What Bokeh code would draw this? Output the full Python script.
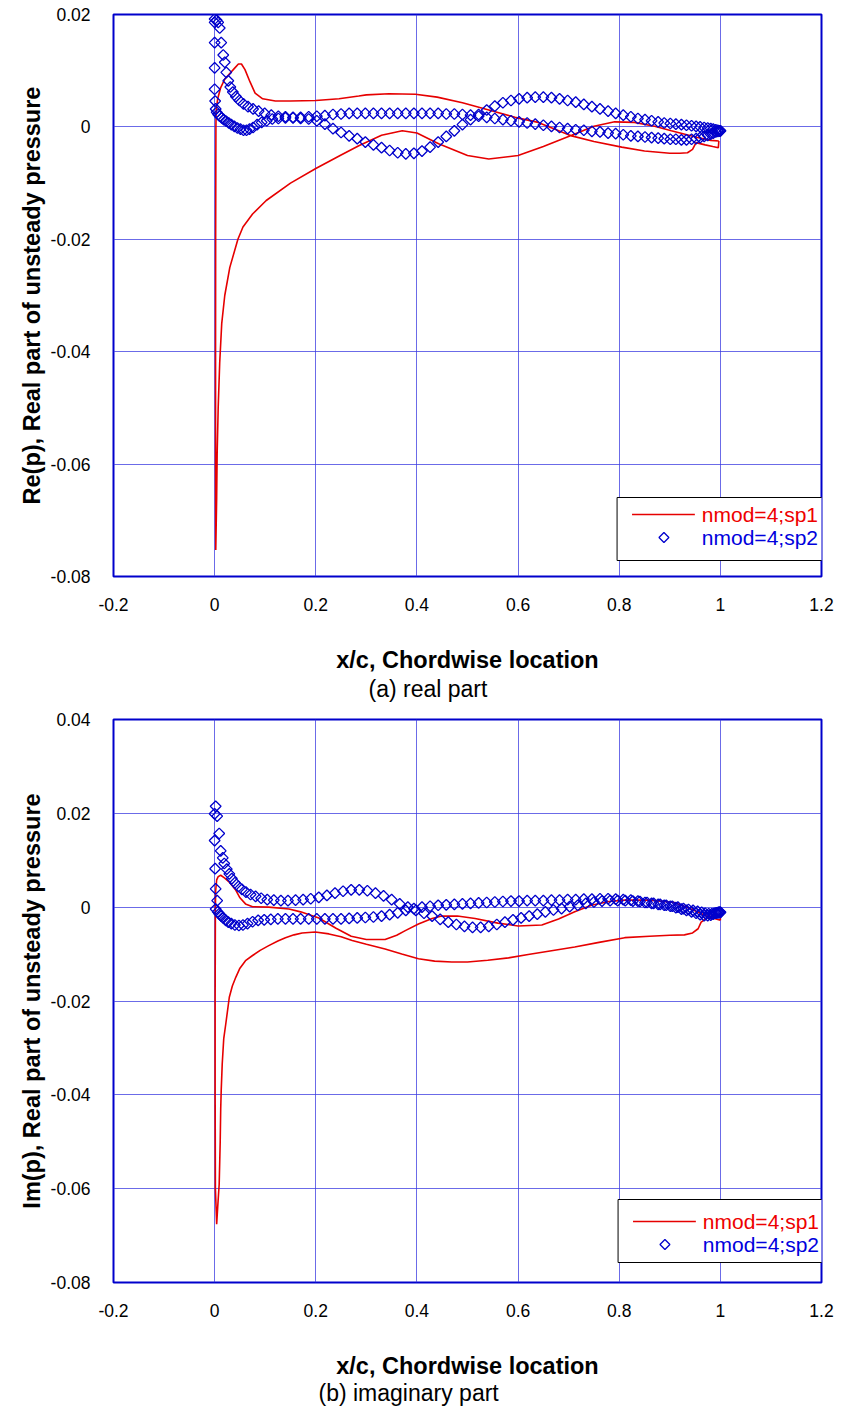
import numpy as np
from bokeh.plotting import figure
from bokeh.models import Label, FixedTicker, Title
from bokeh.layouts import column
from bokeh.embed import file_html
from bokeh.resources import INLINE

FONT = "Liberation Sans"
RED = "#E60000"
BLUE = "#0000CC"
GRID = "#3A3AE0"

# ---------------- ticks ----------------
x_ticks = [-0.2, 0.0, 0.2, 0.4, 0.6, 0.8, 1.0, 1.2]
x_tick_labels = ["-0.2", "0", "0.2", "0.4", "0.6", "0.8", "1", "1.2"]
re_y_ticks = [-0.08, -0.06, -0.04, -0.02, 0.0, 0.02]
re_y_tick_labels = ["-0.08", "-0.06", "-0.04", "-0.02", "0", "0.02"]
im_y_ticks = [-0.08, -0.06, -0.04, -0.02, 0.0, 0.02, 0.04]
im_y_tick_labels = ["-0.08", "-0.06", "-0.04", "-0.02", "0", "0.02", "0.04"]

series_names = ["nmod=4;sp1", "nmod=4;sp2"]

# ---------------- (a) real part : sp1 (line) ----------------
re_sp1_x = [0.997, 0.996, 0.985, 0.970, 0.952, 0.945, 0.935, 0.920, 0.900, 0.850,
            0.805, 0.750, 0.706, 0.640, 0.594, 0.535, 0.490, 0.440, 0.397, 0.345,
            0.300, 0.285, 0.246, 0.200, 0.150, 0.120, 0.095, 0.080, 0.070, 0.060,
            0.053, 0.047, 0.040, 0.030, 0.020, 0.012, 0.006, 0.003, 0.0025, 0.002,
            0.0018, 0.0018, 0.0022, 0.004, 0.005, 0.007, 0.010, 0.014, 0.020, 0.030,
            0.046, 0.056, 0.075, 0.102, 0.150, 0.200, 0.250, 0.286, 0.330, 0.371,
            0.400, 0.443, 0.500, 0.542, 0.600, 0.650, 0.706, 0.750, 0.791, 0.830,
            0.870, 0.903, 0.955, 0.981, 0.997]
re_sp1_y = [-0.0025, -0.0037, -0.0035, -0.0032, -0.0028, -0.0040, -0.0046, -0.0047, -0.0047, -0.0043,
            -0.0036, -0.0026, -0.0016, 0.0008, 0.0017, 0.0032, 0.0043, 0.0053, 0.0058, 0.0059,
            0.0057, 0.0055, 0.0050, 0.0047, 0.0046, 0.0046, 0.0050, 0.0060, 0.0080, 0.0102,
            0.0112, 0.0112, 0.0105, 0.0095, 0.0085, 0.0070, 0.0050, 0.0030, 0.0000, -0.0200,
            -0.0400, -0.0600, -0.0753, -0.0660, -0.0580, -0.0500, -0.0420, -0.0350, -0.0300, -0.0250,
            -0.0200, -0.0178, -0.0155, -0.0131, -0.0100, -0.0074, -0.0050, -0.0033, -0.0015, -0.0007,
            -0.0011, -0.0030, -0.0051, -0.0057, -0.0051, -0.0035, -0.0015, 0.0001, 0.0009, 0.0008,
            0.0001, -0.0007, -0.0019, -0.0024, -0.0025]

# ---------------- (a) real part : sp2 (diamonds), two surfaces ----------------
re_sp2_x1 = [0.000, 0.004, 0.007, 0.010, 0.013, 0.017, 0.020, 0.023, 0.027, 0.031,
             0.036, 0.042, 0.049, 0.057, 0.066, 0.076, 0.087, 0.099, 0.112, 0.126,
             0.140, 0.155, 0.170, 0.186, 0.202, 0.218, 0.234, 0.250, 0.266, 0.282,
             0.298, 0.314, 0.330, 0.346, 0.362, 0.378, 0.394, 0.410, 0.426, 0.442,
             0.458, 0.474, 0.490, 0.506, 0.522, 0.538, 0.554, 0.570, 0.586, 0.602,
             0.618, 0.634, 0.650, 0.666, 0.682, 0.698, 0.714, 0.730, 0.746, 0.762,
             0.778, 0.793, 0.808, 0.823, 0.837, 0.851, 0.864, 0.877, 0.889, 0.901,
             0.912, 0.923, 0.933, 0.943, 0.952, 0.960, 0.968, 0.975, 0.981, 0.986,
             0.991, 0.995, 0.998, 1.000]
re_sp2_y1 = [0.0192, 0.0190, 0.0186, 0.0176, 0.0150, 0.0128, 0.0115, 0.0097, 0.0082, 0.0071,
             0.0062, 0.0054, 0.0047, 0.0041, 0.0036, 0.0032, 0.0028, 0.0024, 0.0021, 0.0019,
             0.0018, 0.0017, 0.0017, 0.0018, 0.0019, 0.0020, 0.0022, 0.0023, 0.0024, 0.0024,
             0.0024, 0.0024, 0.0024, 0.0024, 0.0024, 0.0024, 0.0024, 0.0024, 0.0024, 0.0024,
             0.0023, 0.0023, 0.0022, 0.0021, 0.0019, 0.0017, 0.0015, 0.0013, 0.0011, 0.0009,
             0.0007, 0.0005, 0.0003, 0.0001, -0.0001, -0.0003, -0.0005, -0.0006, -0.0008, -0.0009,
             -0.0011, -0.0012, -0.0014, -0.0016, -0.0017, -0.0018, -0.0019, -0.0020, -0.0021, -0.0022,
             -0.0022, -0.0023, -0.0023, -0.0022, -0.0021, -0.0019, -0.0017, -0.0015, -0.0013, -0.0011,
             -0.0009, -0.0008, -0.0007, -0.0007]
re_sp2_x2 = [0.000, 0.000, 0.000, 0.000, 0.001, 0.002, 0.004, 0.007, 0.010, 0.014,
             0.018, 0.023, 0.028, 0.033, 0.039, 0.045, 0.051, 0.057, 0.063, 0.069,
             0.076, 0.084, 0.093, 0.103, 0.114, 0.126, 0.140, 0.155, 0.170, 0.186,
             0.202, 0.218, 0.234, 0.250, 0.266, 0.282, 0.298, 0.314, 0.330, 0.346,
             0.362, 0.378, 0.394, 0.410, 0.426, 0.442, 0.458, 0.474, 0.490, 0.506,
             0.522, 0.538, 0.554, 0.570, 0.586, 0.602, 0.618, 0.634, 0.650, 0.666,
             0.682, 0.698, 0.714, 0.730, 0.746, 0.762, 0.778, 0.793, 0.808, 0.823,
             0.837, 0.851, 0.864, 0.877, 0.889, 0.901, 0.912, 0.923, 0.933, 0.943,
             0.952, 0.960, 0.968, 0.975, 0.981, 0.986, 0.991, 0.995, 0.998, 1.000]
re_sp2_y2 = [0.0186, 0.0150, 0.0105, 0.0067, 0.0046, 0.0032, 0.0026, 0.0022, 0.0019, 0.0016,
             0.0013, 0.0010, 0.0007, 0.0004, 0.0001, -0.0002, -0.0004, -0.0006, -0.0006, -0.0004,
             -0.0001, 0.0004, 0.0008, 0.0011, 0.0014, 0.0015, 0.0016, 0.0016, 0.0015, 0.0014,
             0.0011, 0.0005, -0.0003, -0.0010, -0.0016, -0.0021, -0.0027, -0.0032, -0.0037, -0.0042,
             -0.0046, -0.0048, -0.0047, -0.0043, -0.0036, -0.0027, -0.0017, -0.0007, 0.0004, 0.0013,
             0.0022, 0.0030, 0.0037, 0.0043, 0.0047, 0.0050, 0.0052, 0.0053, 0.0053, 0.0052,
             0.0050, 0.0047, 0.0044, 0.0040, 0.0036, 0.0032, 0.0028, 0.0024, 0.0021, 0.0018,
             0.0015, 0.0013, 0.0011, 0.0009, 0.0007, 0.0006, 0.0005, 0.0004, 0.0003, 0.0002,
             0.0001, 0.0000, -0.0001, -0.0002, -0.0003, -0.0004, -0.0005, -0.0006, -0.0007, -0.0007]

# ---------------- (b) imaginary part : sp1 (line) ----------------
im_sp1_x = [1.000, 0.975, 0.940, 0.909, 0.860, 0.811, 0.780, 0.745, 0.712, 0.680,
            0.647, 0.600, 0.560, 0.515, 0.480, 0.449, 0.430, 0.403, 0.377, 0.360,
            0.337, 0.300, 0.270, 0.240, 0.206, 0.170, 0.147, 0.107, 0.075, 0.061,
            0.050, 0.042, 0.030, 0.020, 0.012, 0.007, 0.004, 0.002, 0.0015, 0.001,
            0.001, 0.0015, 0.004, 0.006, 0.009, 0.011, 0.012, 0.013, 0.015, 0.018,
            0.022, 0.029, 0.035, 0.042, 0.050, 0.061, 0.075, 0.090, 0.107, 0.125,
            0.140, 0.157, 0.173, 0.199, 0.226, 0.250, 0.272, 0.300, 0.337, 0.370,
            0.403, 0.435, 0.469, 0.500, 0.540, 0.581, 0.620, 0.660, 0.712, 0.760,
            0.811, 0.860, 0.900, 0.929, 0.945, 0.956, 0.962, 0.975, 0.990, 1.000, 1.000]
im_sp1_y = [-0.0028, -0.0020, -0.0003, 0.0010, 0.0015, 0.0015, 0.0012, 0.0004, -0.0010, -0.0025,
            -0.0038, -0.0040, -0.0034, -0.0024, -0.0019, -0.0019, -0.0024, -0.0036, -0.0050, -0.0060,
            -0.0069, -0.0069, -0.0062, -0.0045, -0.0023, -0.0010, -0.0004, 0.0000, 0.0001, 0.0007,
            0.0020, 0.0036, 0.0052, 0.0062, 0.0068, 0.0065, 0.0058, 0.0035, 0.0000, -0.0200,
            -0.0400, -0.0600, -0.0676, -0.0640, -0.0590, -0.0500, -0.0430, -0.0390, -0.0334, -0.0280,
            -0.0249, -0.0192, -0.0168, -0.0149, -0.0130, -0.0114, -0.0103, -0.0092, -0.0082, -0.0072,
            -0.0065, -0.0059, -0.0055, -0.0053, -0.0057, -0.0063, -0.0071, -0.0079, -0.0089, -0.0100,
            -0.0110, -0.0115, -0.0117, -0.0117, -0.0113, -0.0108, -0.0101, -0.0094, -0.0085, -0.0075,
            -0.0065, -0.0062, -0.0060, -0.0059, -0.0055, -0.0046, -0.0032, -0.0022, -0.0016, -0.0015, -0.0028]

# ---------------- (b) imaginary part : sp2 (diamonds), two surfaces ----------------
im_sp2_x1 = [0.002, 0.000, 0.005, 0.009, 0.012, 0.016, 0.019, 0.024, 0.029, 0.034,
             0.040, 0.047, 0.054, 0.062, 0.071, 0.081, 0.092, 0.104, 0.117, 0.131,
             0.145, 0.160, 0.175, 0.190, 0.206, 0.222, 0.238, 0.254, 0.270, 0.286,
             0.302, 0.318, 0.334, 0.350, 0.366, 0.382, 0.398, 0.414, 0.430, 0.446,
             0.462, 0.478, 0.494, 0.510, 0.526, 0.542, 0.558, 0.574, 0.590, 0.606,
             0.622, 0.638, 0.654, 0.670, 0.686, 0.702, 0.718, 0.734, 0.750, 0.766,
             0.782, 0.797, 0.812, 0.827, 0.841, 0.855, 0.868, 0.881, 0.893, 0.905,
             0.916, 0.927, 0.937, 0.946, 0.955, 0.963, 0.970, 0.977, 0.983, 0.988,
             0.992, 0.996, 0.998, 1.000]
im_sp2_y1 = [0.0215, 0.0199, 0.0194, 0.0157, 0.0120, 0.0105, 0.0093, 0.0081, 0.0071, 0.0061,
             0.0052, 0.0044, 0.0038, 0.0032, 0.0027, 0.0023, 0.0019, 0.0016, 0.0015, 0.0014,
             0.0014, 0.0015, 0.0016, 0.0018, 0.0021, 0.0025, 0.0030, 0.0034, 0.0037, 0.0037,
             0.0035, 0.0030, 0.0024, 0.0016, 0.0007, 0.0000, -0.0007, -0.0013, -0.0019, -0.0026,
             -0.0032, -0.0037, -0.0041, -0.0043, -0.0043, -0.0041, -0.0037, -0.0032, -0.0027, -0.0023,
             -0.0019, -0.0015, -0.0010, -0.0006, -0.0003, 0.0001, 0.0004, 0.0008, 0.0011, 0.0013,
             0.0014, 0.0014, 0.0014, 0.0013, 0.0012, 0.0010, 0.0008, 0.0006, 0.0004, 0.0002,
             0.0000, -0.0003, -0.0005, -0.0007, -0.0009, -0.0011, -0.0013, -0.0014, -0.0014, -0.0013,
             -0.0012, -0.0011, -0.0011, -0.0011]
im_sp2_x2 = [0.000, 0.001, 0.002, 0.005, 0.002, 0.006, 0.009, 0.013, 0.017, 0.022,
             0.027, 0.033, 0.040, 0.048, 0.056, 0.065, 0.075, 0.086, 0.098, 0.111,
             0.125, 0.140, 0.155, 0.170, 0.186, 0.202, 0.218, 0.234, 0.250, 0.266,
             0.282, 0.298, 0.314, 0.330, 0.346, 0.362, 0.378, 0.394, 0.410, 0.426,
             0.442, 0.458, 0.474, 0.490, 0.506, 0.522, 0.538, 0.554, 0.570, 0.586,
             0.602, 0.618, 0.634, 0.650, 0.666, 0.682, 0.698, 0.714, 0.730, 0.746,
             0.762, 0.778, 0.793, 0.808, 0.823, 0.837, 0.851, 0.864, 0.877, 0.889,
             0.901, 0.912, 0.923, 0.933, 0.943, 0.952, 0.960, 0.968, 0.975, 0.981,
             0.986, 0.991, 0.995, 0.998, 1.000]
im_sp2_y2 = [0.0142, 0.0082, 0.0039, 0.0014, -0.0004, -0.0010, -0.0014, -0.0019, -0.0023, -0.0028,
             -0.0032, -0.0035, -0.0038, -0.0039, -0.0038, -0.0035, -0.0031, -0.0028, -0.0027, -0.0026,
             -0.0025, -0.0025, -0.0025, -0.0025, -0.0025, -0.0025, -0.0025, -0.0025, -0.0025, -0.0024,
             -0.0023, -0.0022, -0.0021, -0.0019, -0.0016, -0.0012, -0.0007, -0.0003, 0.0000, 0.0002,
             0.0004, 0.0005, 0.0006, 0.0007, 0.0008, 0.0009, 0.0010, 0.0011, 0.0012, 0.0013,
             0.0013, 0.0014, 0.0014, 0.0014, 0.0015, 0.0015, 0.0016, 0.0016, 0.0017, 0.0017,
             0.0018, 0.0018, 0.0017, 0.0016, 0.0015, 0.0013, 0.0010, 0.0008, 0.0006, 0.0004,
             0.0002, -0.0001, -0.0004, -0.0007, -0.0010, -0.0013, -0.0016, -0.0018, -0.0018, -0.0017,
             -0.0015, -0.0013, -0.0012, -0.0011, -0.0011]

X_RANGE = (-0.2, 1.2)
FRAME_W = 710


def make_panel(height, border_top, frame_h, border_left, y_start, y_end,
               y_ticks, y_tick_labels, y_title, line_x, line_y, mark_x, mark_y,
               caption, caption_offset, caption_standoff, legend_px):
    border_right = 852 - border_left - FRAME_W
    border_bottom = height - border_top - frame_h
    p = figure(width=852, height=height, x_range=X_RANGE, y_range=(y_start, y_end),
               output_backend="svg", toolbar_location=None,
               min_border_top=border_top, min_border_bottom=border_bottom,
               min_border_left=border_left, min_border_right=border_right)
    p.background_fill_color = "white"
    p.border_fill_color = "white"
    p.outline_line_color = BLUE
    p.outline_line_width = 2

    # pixel (relative to frame top-left) -> data
    def dx(px):
        return X_RANGE[0] + px * (X_RANGE[1] - X_RANGE[0]) / FRAME_W

    def dy(py):
        return y_end - py * (y_end - y_start) / frame_h

    p.xaxis.ticker = FixedTicker(ticks=x_ticks)
    p.xaxis.major_label_overrides = dict(zip(x_ticks, x_tick_labels))
    p.yaxis.ticker = FixedTicker(ticks=y_ticks)
    p.yaxis.major_label_overrides = dict(zip(y_ticks, y_tick_labels))

    for ax in (p.xaxis, p.yaxis):
        ax.axis_line_color = None
        ax.major_tick_line_color = None
        ax.minor_tick_line_color = None
        ax.major_label_text_font = FONT
        ax.major_label_text_font_size = "17.5px"
        ax.major_label_text_color = "black"
        ax.axis_label_text_font = FONT
        ax.axis_label_text_font_size = "23.5px"
        ax.axis_label_text_font_style = "bold"
        ax.axis_label_text_color = "black"

    p.xaxis.axis_label = "x/c, Chordwise location"
    p.xaxis.major_label_standoff = 15
    p.xaxis.axis_label_standoff = 33
    p.yaxis.axis_label = y_title
    p.yaxis.major_label_standoff = 17
    p.yaxis.axis_label_standoff = 3

    p.xgrid.ticker = FixedTicker(ticks=x_ticks)
    p.ygrid.ticker = FixedTicker(ticks=y_ticks)
    for g in (p.xgrid, p.ygrid):
        g.grid_line_color = GRID
        g.grid_line_alpha = 0.75
        g.grid_line_width = 1

    p.line(line_x, line_y, line_color=RED, line_width=1.6)
    p.scatter(mark_x, mark_y, marker="square", size=7.6, angle=np.pi / 4,
              line_color=BLUE, fill_color=None, line_width=1.3)

    # ---- legend box (drawn inside the frame; its right side runs past the frame edge) ----
    lx, ltop, lbot, row1, row2 = legend_px
    p.quad(left=dx(lx), right=dx(FRAME_W + 40), top=dy(ltop), bottom=dy(lbot),
           fill_color="white", line_color="black", line_width=1)
    p.line([dx(lx + 15), dx(lx + 78)], [dy(row1), dy(row1)], line_color=RED, line_width=1.6)
    p.scatter([dx(lx + 47)], [dy(row2)], marker="square", size=7, angle=np.pi / 4,
              line_color=BLUE, fill_color=None, line_width=1.3)
    p.add_layout(Label(x=dx(lx + 85), y=dy(row1), text=series_names[0], text_font=FONT,
                       text_font_size="21px", text_color="#EE0000",
                       text_align="left", text_baseline="middle"))
    p.add_layout(Label(x=dx(lx + 85), y=dy(row2), text=series_names[1], text_font=FONT,
                       text_font_size="21px", text_color="#0000DD",
                       text_align="left", text_baseline="middle"))

    cap = Title(text=caption, align="left", offset=caption_offset, standoff=caption_standoff,
                text_font=FONT, text_font_size="23px", text_font_style="normal",
                text_color="black")
    p.add_layout(cap, "below")
    return p


# legend_px: (box left, box top, box bottom, row-1 centre, row-2 centre), pixels from frame top-left
p1 = make_panel(703, 14, 562, 113, -0.08, 0.02, re_y_ticks, re_y_tick_labels,
                "Re(p), Real part of unsteady pressure",
                re_sp1_x, re_sp1_y, re_sp2_x1 + re_sp2_x2, re_sp2_y1 + re_sp2_y2,
                "(a) real part", 255, -4, (505, 483, 546, 500, 523))
p2 = make_panel(707, 16, 563, 111, -0.08, 0.04, im_y_ticks, im_y_tick_labels,
                "Im(p), Real part of unsteady pressure",
                im_sp1_x, im_sp1_y, im_sp2_x1 + im_sp2_x2, im_sp2_y1 + im_sp2_y2,
                "(b) imaginary part", 205, -8, (506, 480, 543, 502, 525))

layout = column(p1, p2, spacing=0)
open("out.html", "w").write(file_html(layout, INLINE))
